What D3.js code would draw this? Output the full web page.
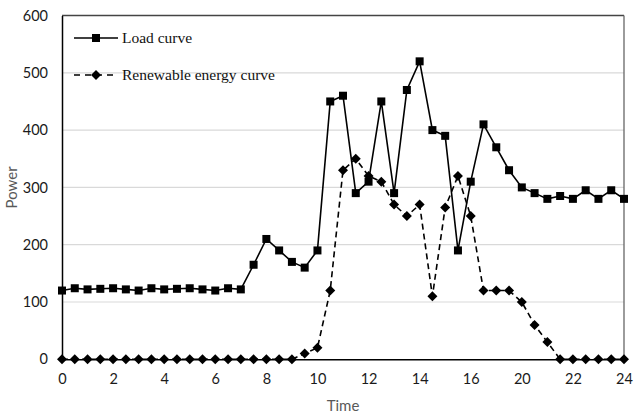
<!DOCTYPE html>
<html><head><meta charset="utf-8">
<script src="https://d3js.org/d3.v7.min.js"></script>
<style>body{margin:0;background:#fff}svg{display:block}</style>
</head><body>
<script>
const loadValues = [120,124,122,123,124,122,120,124,122,123,124,122,120,124,122,165,210,190,170,160,190,450,460,290,310,450,290,470,520,400,390,190,310,410,370,330,300,290,280,285,280,295,280,295,280];
const renewableValues = [0,0,0,0,0,0,0,0,0,0,0,0,0,0,0,0,0,0,0,10,20,120,330,350,320,310,270,250,270,110,265,320,250,120,120,120,100,60,30,0,0,0,0,0,0];
const xTickLabels = ["0","2","4","6","8","10","12","14","16","20","22","24"];
const yTicks = [0,100,200,300,400,500,600];
const seriesNames = ["Load curve","Renewable energy curve"];

const W=634,H=414, m={l:62,r:10,t:15.5,b:54.7};
const svg=d3.select("body").append("svg").attr("width",W).attr("height",H);
const x=d3.scaleLinear().domain([0,loadValues.length-1]).range([m.l,W-m.r]);
const y=d3.scaleLinear().domain([0,600]).range([H-m.b,m.t]);
const iw=W-m.r-m.l;

// grid
svg.append("g").selectAll("line").data(yTicks.filter(d=>d>0&&d<600)).join("line")
 .attr("x1",m.l).attr("x2",W-m.r).attr("y1",d=>y(d)).attr("y2",d=>y(d))
 .attr("stroke","#d9d9d9").attr("stroke-width",1.2);

// frame
svg.append("line").attr("x1",m.l).attr("x2",W-m.r).attr("y1",y(600)).attr("y2",y(600)).attr("stroke","#444").attr("stroke-width",1.3);
svg.append("line").attr("x1",W-m.r).attr("x2",W-m.r).attr("y1",y(600)).attr("y2",y(0)).attr("stroke","#666").attr("stroke-width",1.3);

// y axis
const yAxis=svg.append("g").attr("transform",`translate(${m.l},0)`)
 .call(d3.axisLeft(y).tickValues(yTicks).tickSize(0).tickPadding(14));
yAxis.select(".domain").attr("stroke","#000").attr("stroke-width",1.5);
yAxis.selectAll("text").attr("font-family","Lato, 'Open Sans', sans-serif").attr("font-size",14.5).attr("fill","#1a1a1a");

// x axis
const tickIdx=xTickLabels.map((d,i)=>i*4);
const xAxis=svg.append("g").attr("transform",`translate(0,${y(0)})`)
 .call(d3.axisBottom(x).tickValues(tickIdx).tickFormat((d,i)=>xTickLabels[i]).tickSize(0).tickPadding(14));
xAxis.select(".domain").attr("stroke","#000").attr("stroke-width",1.5);
xAxis.selectAll("text").attr("font-family","Lato, 'Open Sans', sans-serif").attr("font-size",14.5).attr("fill","#1a1a1a");

// titles
svg.append("text").attr("x",m.l+iw/2).attr("y",H-3).attr("text-anchor","middle")
 .attr("font-family","Lato, 'Open Sans', sans-serif").attr("font-size",15).attr("fill","#595959").text("Time");
svg.append("text").attr("transform",`translate(17,${(y(0)+y(600))/2}) rotate(-90)`).attr("text-anchor","middle")
 .attr("font-family","Lato, 'Open Sans', sans-serif").attr("font-size",15).attr("fill","#595959").text("Power");

const line=d3.line().x((d,i)=>x(i)).y(d=>y(d));
const diamond="M0,-5L5,0L0,5L-5,0Z";
// renewable
svg.append("path").datum(renewableValues).attr("d",line).attr("fill","none").attr("stroke","#000")
 .attr("stroke-width",1.6).attr("stroke-dasharray","6,4");
svg.append("g").selectAll("path").data(renewableValues).join("path")
 .attr("d",diamond).attr("transform",(d,i)=>`translate(${x(i)},${y(d)})`).attr("fill","#000");
// load
svg.append("path").datum(loadValues).attr("d",line).attr("fill","none").attr("stroke","#000").attr("stroke-width",1.6);
svg.append("g").selectAll("rect").data(loadValues).join("rect")
 .attr("x",(d,i)=>x(i)-4).attr("y",d=>y(d)-4).attr("width",8).attr("height",8).attr("fill","#000");

// legend
const lg=svg.append("g");
const lx1=74,lx2=118;
lg.append("line").attr("x1",lx1).attr("x2",lx2).attr("y1",38).attr("y2",38).attr("stroke","#000").attr("stroke-width",1.6);
lg.append("rect").attr("x",(lx1+lx2)/2-4).attr("y",34).attr("width",8).attr("height",8).attr("fill","#000");
lg.append("text").attr("x",122).attr("y",43).attr("font-family","'Liberation Serif', serif").attr("font-size",15.5).attr("fill","#111").text(seriesNames[0]);
lg.append("line").attr("x1",lx1).attr("x2",lx2).attr("y1",75).attr("y2",75).attr("stroke","#000").attr("stroke-width",1.6).attr("stroke-dasharray","6,5");
lg.append("path").attr("d",diamond).attr("transform",`translate(${(lx1+lx2)/2},75)`).attr("fill","#000");
lg.append("text").attr("x",122).attr("y",80).attr("font-family","'Liberation Serif', serif").attr("font-size",15.5).attr("fill","#111").text(seriesNames[1]);
</script>
</body></html>
